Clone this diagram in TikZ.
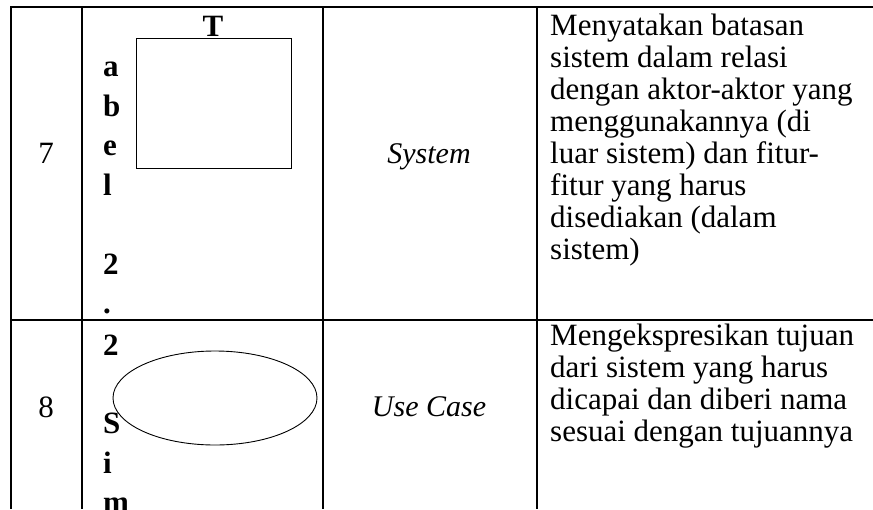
\documentclass[tikz,border=0pt]{standalone}
\usepackage{fontspec}
\setmainfont{Liberation Serif}
\begin{document}
\begin{tikzpicture}[x=1pt,y=-1pt,
  grid/.style={line width=2pt},
  thinline/.style={line width=0.9pt},
  txt/.style={inner sep=0pt, font=\fontsize{31}{32}\selectfont},
  desc/.style={txt, anchor=base west},
  num/.style={txt, anchor=base},
  term/.style={inner sep=0pt, font=\fontsize{30}{32}\selectfont\itshape, anchor=base},
  bl/.style={inner sep=0pt, font=\fontsize{31}{32}\selectfont\bfseries, anchor=base west}]
\useasboundingbox (0,0) rectangle (873,509);
\clip (0,0) rectangle (873,509);
% table rules
\draw[grid] (10,7) -- (873,7);
\draw[grid] (10,320) -- (873,320);
\draw[grid] (11,6) -- (11,509);
\draw[grid] (82,6) -- (82,509);
\draw[grid] (323,6) -- (323,509);
\draw[grid] (537,6) -- (537,509);
% shapes
\draw[thinline] (136,38) rectangle (291,168);
\draw[thinline] (215,398) ellipse [x radius=102, y radius=47];
% numbers
\node[num] (n7) at (46,163) {7};
\node[num] (n8) at (46,417) {8};
% terms
\node[term] (sys) at (429,163) {System};
\node[term] (uc) at (429,416) {Use Case};
% broken caption letters
\node[inner sep=0pt, font=\fontsize{31}{32}\selectfont\bfseries, anchor=base] (cT) at (213,36) {T};
\node[bl] (c1) at (103,76.5) {a};
\node[bl] (c2) at (103,116) {b};
\node[bl] (c3) at (103,155.5) {e};
\node[bl] (c4) at (103,195) {l};
\node[bl] (c5) at (103,274) {2};
\node[bl] (c6) at (103,313.5) {.};
\node[bl] (c7) at (103,355) {2};
\node[bl] (c8) at (103,433.5) {S};
\node[bl] (c9) at (103,473) {i};
\node[bl] (c10) at (103,512.5) {m};
% descriptions
\node[desc] (d1) at (550,35) {Menyatakan batasan};
\node[desc] (d2) at (550,67) {sistem dalam relasi};
\node[desc] (d3) at (550,99) {dengan aktor-aktor yang};
\node[desc] (d4) at (550,131) {menggunakannya (di};
\node[desc] (d5) at (550,163) {luar sistem) dan fitur-};
\node[desc] (d6) at (550,195) {fitur yang harus};
\node[desc] (d7) at (550,227) {disediakan (dalam};
\node[desc] (d8) at (550,259) {sistem)};
\node[desc] (e1) at (550,345) {Mengekspresikan tujuan};
\node[desc] (e2) at (550,377) {dari sistem yang harus};
\node[desc] (e3) at (550,409) {dicapai dan diberi nama};
\node[desc] (e4) at (550,441) {sesuai dengan tujuannya};
\end{tikzpicture}
\end{document}
